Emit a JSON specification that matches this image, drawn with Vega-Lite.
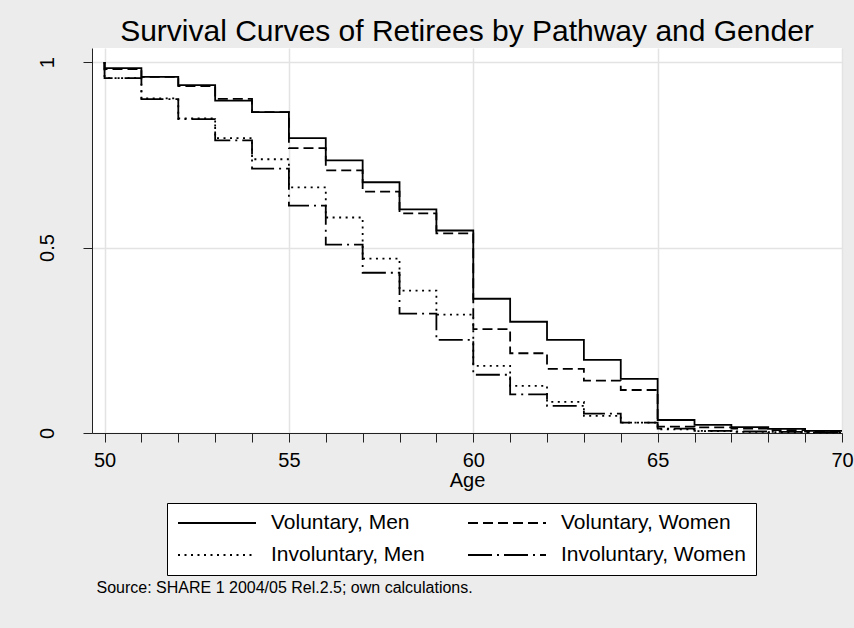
{
  "$schema": "https://vega.github.io/schema/vega-lite/v6.json",
  "width": 750,
  "height": 385,
  "autosize": {"type": "none"},
  "padding": {"left": 92, "top": 48, "right": 12, "bottom": 195},
  "background": "#ececec",
  "config": {
    "font": "Liberation Sans",
    "view": {"fill": "white", "stroke": null},
    "axis": {"labelColor": "black", "titleColor": "black", "domainColor": "#222222", "tickColor": "#222222", "domainWidth": 1, "tickWidth": 1}
  },
  "title": {
    "text": "Survival Curves of Retirees by Pathway and Gender",
    "fontSize": 30,
    "fontWeight": "normal",
    "color": "black",
    "baseline": "alphabetic",
    "frame": "group",
    "offset": -23,
    "anchor": "middle"
  },
  "data": {
    "values": [
      {"g": "Voluntary, Men", "k": 0, "age": 50, "s": 1},
      {"g": "Voluntary, Men", "k": 1, "age": 50, "s": 0.984},
      {"g": "Voluntary, Men", "k": 2, "age": 51, "s": 0.96},
      {"g": "Voluntary, Men", "k": 3, "age": 52, "s": 0.938},
      {"g": "Voluntary, Men", "k": 4, "age": 53, "s": 0.896},
      {"g": "Voluntary, Men", "k": 5, "age": 54, "s": 0.865},
      {"g": "Voluntary, Men", "k": 6, "age": 55, "s": 0.795},
      {"g": "Voluntary, Men", "k": 7, "age": 56, "s": 0.735},
      {"g": "Voluntary, Men", "k": 8, "age": 57, "s": 0.676},
      {"g": "Voluntary, Men", "k": 9, "age": 58, "s": 0.603},
      {"g": "Voluntary, Men", "k": 10, "age": 59, "s": 0.546},
      {"g": "Voluntary, Men", "k": 11, "age": 60, "s": 0.362},
      {"g": "Voluntary, Men", "k": 12, "age": 61, "s": 0.3},
      {"g": "Voluntary, Men", "k": 13, "age": 62, "s": 0.251},
      {"g": "Voluntary, Men", "k": 14, "age": 63, "s": 0.197},
      {"g": "Voluntary, Men", "k": 15, "age": 64, "s": 0.146},
      {"g": "Voluntary, Men", "k": 16, "age": 65, "s": 0.035},
      {"g": "Voluntary, Men", "k": 17, "age": 66, "s": 0.022},
      {"g": "Voluntary, Men", "k": 18, "age": 67, "s": 0.016},
      {"g": "Voluntary, Men", "k": 19, "age": 68, "s": 0.011},
      {"g": "Voluntary, Men", "k": 20, "age": 69, "s": 0.006},
      {"g": "Voluntary, Men", "k": 21, "age": 70, "s": 0.006},
      {"g": "Voluntary, Women", "k": 0, "age": 50, "s": 1},
      {"g": "Voluntary, Women", "k": 1, "age": 50, "s": 0.981},
      {"g": "Voluntary, Women", "k": 2, "age": 51, "s": 0.96},
      {"g": "Voluntary, Women", "k": 3, "age": 52, "s": 0.935},
      {"g": "Voluntary, Women", "k": 4, "age": 53, "s": 0.901},
      {"g": "Voluntary, Women", "k": 5, "age": 54, "s": 0.865},
      {"g": "Voluntary, Women", "k": 6, "age": 55, "s": 0.768},
      {"g": "Voluntary, Women", "k": 7, "age": 56, "s": 0.708},
      {"g": "Voluntary, Women", "k": 8, "age": 57, "s": 0.651},
      {"g": "Voluntary, Women", "k": 9, "age": 58, "s": 0.592},
      {"g": "Voluntary, Women", "k": 10, "age": 59, "s": 0.538},
      {"g": "Voluntary, Women", "k": 11, "age": 60, "s": 0.28},
      {"g": "Voluntary, Women", "k": 12, "age": 61, "s": 0.215},
      {"g": "Voluntary, Women", "k": 13, "age": 62, "s": 0.173},
      {"g": "Voluntary, Women", "k": 14, "age": 63, "s": 0.141},
      {"g": "Voluntary, Women", "k": 15, "age": 64, "s": 0.116},
      {"g": "Voluntary, Women", "k": 16, "age": 65, "s": 0.017},
      {"g": "Voluntary, Women", "k": 17, "age": 66, "s": 0.015},
      {"g": "Voluntary, Women", "k": 18, "age": 67, "s": 0.012},
      {"g": "Voluntary, Women", "k": 19, "age": 68, "s": 0.008},
      {"g": "Voluntary, Women", "k": 20, "age": 69, "s": 0.004},
      {"g": "Voluntary, Women", "k": 21, "age": 70, "s": 0.004},
      {"g": "Involuntary, Men", "k": 0, "age": 50, "s": 1},
      {"g": "Involuntary, Men", "k": 1, "age": 50, "s": 0.957},
      {"g": "Involuntary, Men", "k": 2, "age": 51, "s": 0.902},
      {"g": "Involuntary, Men", "k": 3, "age": 52, "s": 0.848},
      {"g": "Involuntary, Men", "k": 4, "age": 53, "s": 0.795},
      {"g": "Involuntary, Men", "k": 5, "age": 54, "s": 0.738},
      {"g": "Involuntary, Men", "k": 6, "age": 55, "s": 0.662},
      {"g": "Involuntary, Men", "k": 7, "age": 56, "s": 0.581},
      {"g": "Involuntary, Men", "k": 8, "age": 57, "s": 0.47},
      {"g": "Involuntary, Men", "k": 9, "age": 58, "s": 0.384},
      {"g": "Involuntary, Men", "k": 10, "age": 59, "s": 0.319},
      {"g": "Involuntary, Men", "k": 11, "age": 60, "s": 0.181},
      {"g": "Involuntary, Men", "k": 12, "age": 61, "s": 0.127},
      {"g": "Involuntary, Men", "k": 13, "age": 62, "s": 0.084},
      {"g": "Involuntary, Men", "k": 14, "age": 63, "s": 0.046},
      {"g": "Involuntary, Men", "k": 15, "age": 64, "s": 0.028},
      {"g": "Involuntary, Men", "k": 16, "age": 65, "s": 0.01},
      {"g": "Involuntary, Men", "k": 17, "age": 66, "s": 0.005},
      {"g": "Involuntary, Men", "k": 18, "age": 67, "s": 0.003},
      {"g": "Involuntary, Men", "k": 19, "age": 68, "s": 0.002},
      {"g": "Involuntary, Men", "k": 20, "age": 69, "s": 0.001},
      {"g": "Involuntary, Men", "k": 21, "age": 70, "s": 0.001},
      {"g": "Involuntary, Women", "k": 0, "age": 50, "s": 1},
      {"g": "Involuntary, Women", "k": 1, "age": 50, "s": 0.957},
      {"g": "Involuntary, Women", "k": 2, "age": 51, "s": 0.9},
      {"g": "Involuntary, Women", "k": 3, "age": 52, "s": 0.846},
      {"g": "Involuntary, Women", "k": 4, "age": 53, "s": 0.789},
      {"g": "Involuntary, Women", "k": 5, "age": 54, "s": 0.713},
      {"g": "Involuntary, Women", "k": 6, "age": 55, "s": 0.613},
      {"g": "Involuntary, Women", "k": 7, "age": 56, "s": 0.508},
      {"g": "Involuntary, Women", "k": 8, "age": 57, "s": 0.432},
      {"g": "Involuntary, Women", "k": 9, "age": 58, "s": 0.322},
      {"g": "Involuntary, Women", "k": 10, "age": 59, "s": 0.251},
      {"g": "Involuntary, Women", "k": 11, "age": 60, "s": 0.157},
      {"g": "Involuntary, Women", "k": 12, "age": 61, "s": 0.104},
      {"g": "Involuntary, Women", "k": 13, "age": 62, "s": 0.073},
      {"g": "Involuntary, Women", "k": 14, "age": 63, "s": 0.052},
      {"g": "Involuntary, Women", "k": 15, "age": 64, "s": 0.028},
      {"g": "Involuntary, Women", "k": 16, "age": 65, "s": 0.012},
      {"g": "Involuntary, Women", "k": 17, "age": 66, "s": 0.006},
      {"g": "Involuntary, Women", "k": 18, "age": 67, "s": 0.004},
      {"g": "Involuntary, Women", "k": 19, "age": 68, "s": 0.003},
      {"g": "Involuntary, Women", "k": 20, "age": 69, "s": 0.002},
      {"g": "Involuntary, Women", "k": 21, "age": 70, "s": 0.002}
    ]
  },
  "mark": {"type": "line", "interpolate": "step-after", "stroke": "black", "strokeWidth": 1.8, "strokeCap": "butt"},
  "encoding": {
    "x": {
      "field": "age",
      "type": "quantitative",
      "scale": {"domain": [49.66, 70], "nice": false, "zero": false},
      "axis": {
        "values": [50, 51, 52, 53, 54, 55, 56, 57, 58, 59, 60, 61, 62, 63, 64, 65, 66, 67, 68, 69, 70],
        "labelExpr": "datum.value % 5 === 0 ? datum.label : ''",
        "labelOverlap": false,
        "labelFlush": false,
        "labelBound": false,
        "labelFontSize": 20,
        "labelPadding": 8,
        "tickSize": 9,
        "title": "Age",
        "titleFontSize": 20,
        "titleFontWeight": "normal",
        "titlePadding": 0,
        "grid": true,
        "gridColor": "#e3e3e3",
        "gridWidth": 1.5,
        "gridOpacity": {"condition": {"test": "datum.value % 5 === 0", "value": 1}, "value": 0}
      }
    },
    "y": {
      "field": "s",
      "type": "quantitative",
      "scale": {"domain": [0, 1.038], "nice": false, "zero": true},
      "axis": {
        "values": [0, 0.5, 1],
        "format": "~g",
        "labelAngle": -90,
        "labelAlign": "center",
        "labelBaseline": "alphabetic",
        "labelPadding": 30,
        "labelFontSize": 20,
        "tickSize": 9,
        "grid": true,
        "gridColor": "#e3e3e3",
        "gridWidth": 1.5,
        "title": "Source: SHARE 1 2004/05 Rel.2.5; own calculations.",
        "titleAngle": 0,
        "titleAlign": "left",
        "titleBaseline": "alphabetic",
        "titleX": 4,
        "titleY": 544,
        "titleFontSize": 16,
        "titleFontWeight": "normal"
      }
    },
    "strokeDash": {
      "field": "g",
      "type": "nominal",
      "scale": {
        "domain": ["Voluntary, Men", "Voluntary, Women", "Involuntary, Men", "Involuntary, Women"],
        "range": [[1, 0], [10, 5], [2, 4.5], [24, 5, 2, 5]]
      },
      "legend": {
        "title": null,
        "orient": "none",
        "direction": "horizontal",
        "legendX": 75,
        "legendY": 455,
        "columns": 2,
        "symbolType": "stroke",
        "symbolSize": 6084,
        "symbolStrokeWidth": 1.8,
        "symbolStrokeColor": "black",
        "labelFontSize": 21,
        "labelColor": "black",
        "labelOffset": 14,
        "labelLimit": 400,
        "columnPadding": 42,
        "rowPadding": 11,
        "padding": 10,
        "clipHeight": 20,
        "strokeColor": "black",
        "fillColor": "white"
      }
    },
    "order": {"field": "k", "type": "quantitative"}
  }
}
